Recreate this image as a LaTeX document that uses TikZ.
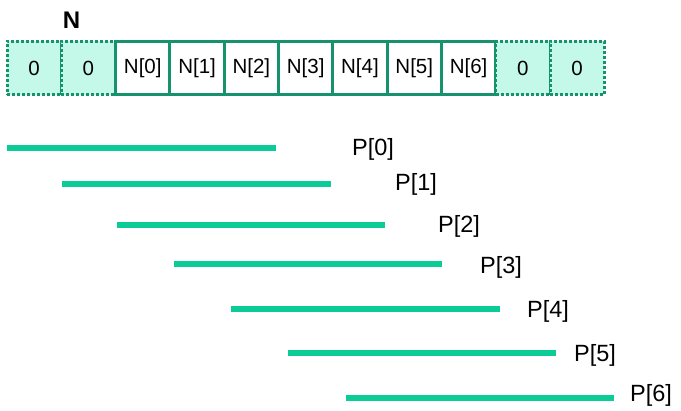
\documentclass[tikz,border=0pt]{standalone}
\usepackage{fontspec}
\setmainfont{Liberation Sans}
\definecolor{borda}{HTML}{16936D}
\definecolor{preenche}{HTML}{C4F8E8}
\definecolor{barra}{HTML}{0BCB97}
\tikzset{
  celula/.style={draw=borda, line width=3pt, minimum width=54.3pt, minimum height=53.5pt,
    inner sep=0pt, font=\fontsize{20.5}{20.5}\selectfont},
  zero/.style={celula, fill=preenche, dash pattern=on 3pt off 2pt},
  faixa/.style={barra, line width=6pt},
  rotulo/.style={anchor=west, inner sep=0pt, font=\fontsize{23.5}{23.5}\selectfont},
}
\begin{document}
\begin{tikzpicture}[x=1pt, y=-1pt]
  \useasboundingbox (0,0) rectangle (681,411);

  % Nome do vetor
  \node[font=\bfseries\fontsize{24}{24}\selectfont] (rotN) at (71.5,20) {N};

  % zeros a esquerda
  \foreach \i in {0,1} {
    \node[zero] (c\i) at ({7+54.3*(\i+0.5)},68) {0};
  }

  % vetor N
  \foreach \i in {0,...,6} {
    \node[celula] (n\i) at ({7+54.3*(\i+2.5)},68) {N[\i]};
  }

  % zeros a direita
  \foreach \i in {9,10} {
    \node[zero] (c\i) at ({7+54.3*(\i+0.5)},68) {0};
  }

  % faixas P
  \foreach \i/\xa/\xb/\y/\xl/\yl in {0/7/276/148/352/149, 1/62/331/184/395/184,
      2/117/385/225/438/226, 3/174/442/264/480/267, 4/231/500/309/527/311,
      5/288/556/353/574/355, 6/346/614/398/630/395} {
    \coordinate (ini\i) at (\xa,\y);
    \coordinate (fim\i) at (\xb,\y);
    \draw[faixa] (ini\i) -- (fim\i);
    \node[rotulo] (p\i) at (\xl,\yl) {P[\i]};
  }
\end{tikzpicture}
\end{document}
